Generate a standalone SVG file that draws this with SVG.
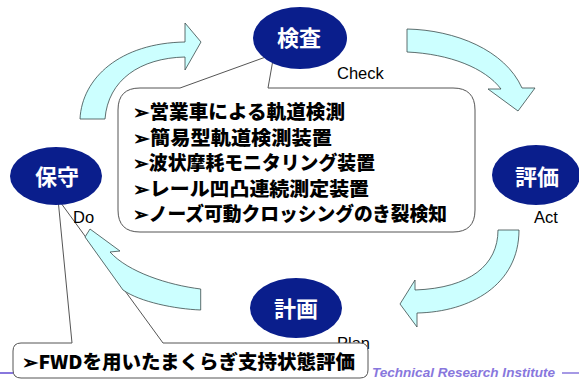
<svg xmlns="http://www.w3.org/2000/svg" width="579" height="379" viewBox="0 0 579 379">
<style>
.arrow{fill:#ccffff;stroke:#3a4a4a;stroke-width:0.8;stroke-linejoin:miter}
.callout{fill:#ffffff;stroke:#555555;stroke-width:1}
.node{fill:#0a1e8c}
.ntxt{font-family:"Noto Sans CJK JP","Noto Sans CJK SC",sans-serif;font-weight:700;font-size:22px;fill:#ffffff;text-anchor:middle}
.lbl{font-family:"Liberation Sans",Arial,sans-serif;font-size:16.5px;fill:#000000}
.item{font-family:"Noto Sans CJK JP","Noto Sans CJK SC",sans-serif;font-weight:900;font-size:19px;fill:#000000}
.foot{font-family:"Liberation Sans",Arial,sans-serif;font-weight:700;font-style:italic;font-size:12px;fill:#8877dd}
</style>
<rect width="579" height="379" fill="#ffffff"/>
<g id="footer">
<line x1="0" y1="373" x2="14" y2="373" stroke="#8877dd" stroke-width="2"/>
<text class="foot" x="372" y="377" textLength="183" lengthAdjust="spacingAndGlyphs">Technical Research Institute</text>
<line x1="562" y1="373" x2="579" y2="373" stroke="#8877dd" stroke-width="1.5"/>
</g>
<text class="lbl" x="337" y="349">Plan</text>
<g id="callout-check">
<path class="callout" d="M140 88 L180 88 L274 54 L268 88 L453 88 Q475 88 475 110 L475 210 Q475 232 453 232 L140 232 Q118 232 118 210 L118 110 Q118 88 140 88 Z"/>
<text class="item" x="133" y="119" textLength="212" lengthAdjust="spacingAndGlyphs">➢営業車による軌道検測</text>
<text class="item" x="133" y="145" textLength="199" lengthAdjust="spacingAndGlyphs">➢簡易型軌道検測装置</text>
<text class="item" x="133" y="170" textLength="242" lengthAdjust="spacingAndGlyphs">➢波状摩耗モニタリング装置</text>
<text class="item" x="133" y="196" textLength="236" lengthAdjust="spacingAndGlyphs">➢レール凹凸連続測定装置</text>
<text class="item" x="133" y="221" textLength="314" lengthAdjust="spacingAndGlyphs">➢ノーズ可動クロッシングのき裂検知</text>
</g>
<g id="callout-do">
<path class="callout" d="M21 343 L72 343 L58 199 L163 343 L360 343 Q368 343 368 351 L368 370 Q368 378 360 378 L21 378 Q13 378 13 370 L13 351 Q13 343 21 343 Z"/>
<text class="item" x="22" y="369" textLength="333" lengthAdjust="spacingAndGlyphs">➢FWDを用いたまくらぎ支持状態評価</text>
</g>
<g id="connectors">
<path class="arrow" d="M80 119 C82 78 120 43 185 42 L185 23 L201 42 L185 70 L185 57 C140 58 108 80 105 119 Z"/>
<path class="arrow" d="M407 29 C455 30 505 50 522 88 L535 88 L518 111 L488 89 L501 89 C485 68 450 54 407 52 Z"/>
<path class="arrow" d="M498 230 C498 265 470 288 415 290 L415 280 L400 304 L417 327 L417 313 C470 312 519 285 519 230 Z"/>
<path class="arrow" d="M200.7 289 C168 285 128 272 110 252 L120 251 L90 229 L85 237 L123 290 C140 302 175 309 200.7 310 Z"/>
</g>
<g id="node-check">
<ellipse class="node" cx="300" cy="38" rx="47" ry="31"/>
<text class="ntxt" x="299" y="46">検査</text>
</g>
<g id="node-do">
<ellipse class="node" cx="56" cy="176" rx="46" ry="29"/>
<text class="ntxt" x="57" y="185">保守</text>
</g>
<g id="node-act">
<ellipse class="node" cx="536" cy="175" rx="44" ry="30"/>
<text class="ntxt" x="537" y="185">評価</text>
</g>
<g id="node-plan">
<ellipse class="node" cx="296" cy="308" rx="46" ry="30"/>
<text class="ntxt" x="296" y="317">計画</text>
</g>
<g id="labels">
<text class="lbl" x="337" y="79">Check</text>
<text class="lbl" x="534" y="223">Act</text>
<text class="lbl" x="73" y="223">Do</text>
</g>
</svg>
